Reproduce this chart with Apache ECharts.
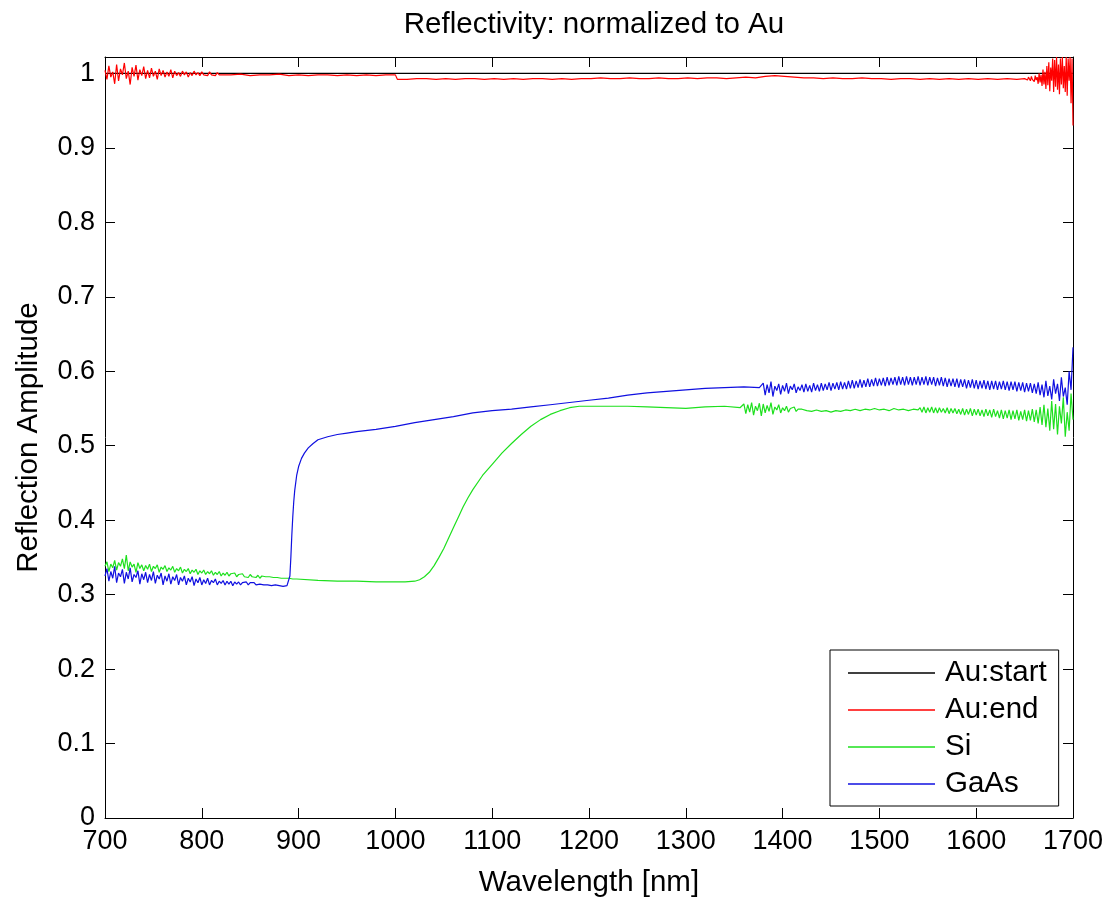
<!DOCTYPE html>
<html>
<head>
<meta charset="utf-8">
<script src="https://cdn.jsdelivr.net/npm/echarts@6/dist/echarts.min.js"></script>
<style>html,body{margin:0;padding:0;background:#fff;}#c{width:1113px;height:900px;}</style>
</head>
<body>
<div id="c"></div>
<script>
// ---------- DATA ----------
const seriesNames = ['Au:start', 'Au:end', 'Si', 'GaAs'];
const xTicks = [700, 800, 900, 1000, 1100, 1200, 1300, 1400, 1500, 1600, 1700];

// Au:start (reference itself, flat at 1)
const auStartWl = [700, 1700];
const auStartVal = [1, 1];

// Au:end segments
const auEndSegA = [1.004,.992,1.010,.995,1.002,.986,1.012,.990,1.006,.998,
  1.014,.993,1.003,.985,1.008,.996,1.011,.991,1.005,.997,
  1.009,.993,1.004,.994,1.007,.996,1.003,.992,1.006,.997,
  1.004,.995,1.002,.996,1.005,.994,1.003,.997,1.001,.996,
  1.003,.998,1.002,.995,1.001,.997,1.003,.998,1.001,.997,
  1.002,.998,1.000,.997,1.002,.998,1.000,.997,1.001,.998,1.000]; // 700..820 step 2
const auEndSegB = [.998,.999,.997,.998,.998,.999,.997,.998,.997,.998,.998,.997,.998,.997,.998,.997,.998,.998]; // 830..1000 step 10
const auEndSegC = [.992,.992,.993,.993,.992,.993,.992,.993,.993,.992,
  .993,.992,.993,.992,.993,.993,.992,.993,.992,.993,
  .993,.994,.993,.993,.994,.993,.993,.994,.993,.993,
  .994,.993,.994,.994,.993,.994,.995,.994,.996,.997,
  .996,.995,.994,.994,.993,.994,.993,.993,.994,.993,
  .993,.992,.993,.993,.992,.993,.992,.993,.992,.993,
  .992,.993,.992,.993,.992]; // 1002..1642 step 10
const auEndSegD = [.993,.992,.994,.991,.995,.993,.990,.996,.992,.994,
  .989,.997,.991,.995,.986,1.000,.988,.998,.983,1.005,
  .985,1.002,.979,1.010,.984,1.015,.976,1.008,.990,1.020,
  .975,1.018,.982,1.022,.978,1.012,.972,1.020,.985,1.022,
  .980,1.010,.975,1.022,.970,1.020,.990,1.022,.960,1.020,.930]; // 1650..1700 step 1

// Si segments
const siSegA = [.338,.344,.331,.341,.336,.346,.333,.343,.338,.348,.335,.353,.332,.344,.337,.341,.330,.343,.335,.340,
  .332,.339,.334,.341,.331,.338,.335,.340,.330,.337,.334,.339,.331,.336,.333,.338,.330,.335,.332,.337,
  .329,.334,.331,.335,.328,.333,.330,.334,.327,.332,.329,.333,.327,.331,.328,.332,.326,.330,.327,.331,
  .325,.329,.326,.330,.325,.328,.326,.329,.324,.327,.325,.328,.324,.326,.323,.327,.324,.325,.323,.326,
  .322,.325,.323,.324,.322,.324,.322,.323,.321,.323,.321,.322,.320,.322,.321,.322,.320,.321,.320,.321]; // 700..898 step 2
const siSmoothWl = [900,920,940,960,980,1000,1010,1020,1025,1030,1035,1040,1045,1050,1055,1060,1065,1070,1075,1080,
  1090,1100,1110,1120,1130,1140,1150,1160,1170,1180,1190,1200,1220,1240,1260,1280,1300,1320,1340,1356];
const siSmoothVal = [.320,.319,.318,.318,.317,.317,.317,.318,.320,.324,.330,.339,.350,.362,.376,.390,.404,.418,.430,.441,
  .460,.475,.490,.503,.515,.526,.535,.542,.547,.551,.553,.553,.553,.553,.552,.551,.550,.552,.553,.551];
const siSegC = [.550,.556,.543,.555,.545,.558,.541,.553,.547,.557,.540,.556,.544,.554,.546,.558,
  .542,.552,.548,.555,.544,.551,.547,.553,.545,.550,.548,.552,.546,.549,.547,.549]; // 1358..1420 step 2
const siSegD = [.547,.546,.548,.546,.547,.545,.547,.546,.548,.547,.549,.547,.549,.548,.550,.548,.549,.547,.550,.548,.549,.547,.549,.548]; // 1425..1540 step 5
const siSegE = [.551,.545,.552,.544,.551,.545,.552,.544,.551,.544,.551,.545,.550,.544,.551,.543,.550,.544,.550,.543,
  .549,.542,.550,.541,.549,.542,.550,.540,.549,.541,.549,.540,.548,.539,.549,.540,.548,.538,.549,.539,
  .547,.537,.548,.536,.547,.537,.548,.535,.547,.536,.548,.534,.546,.535,.548,.533,.547,.534,.549,.532,
  .548,.530,.552,.528,.555,.525,.550,.520,.560,.522,.556,.515,.553,.530,.565,.512,.545,.520,.570,.535]; // 1542..1700 step 2

// GaAs segments
const gaasSegA = [.325,.335,.318,.331,.322,.338,.316,.329,.324,.334,.315,.330,.321,.336,.317,.327,.323,.332,.314,.328,
  .320,.330,.316,.327,.319,.331,.315,.326,.321,.329,.313,.325,.318,.328,.314,.324,.319,.327,.313,.323,
  .318,.325,.313,.322,.317,.324,.312,.321,.316,.323,.313,.320,.315,.322,.313,.319,.316,.321,.313,.318,
  .315,.319,.313,.318,.314,.318,.312,.317,.314,.317,.313,.316,.314,.317,.313,.316,.314,.316,.313,.315,
  .314,.316,.313,.315,.313,.314,.312,.314,.313,.313,.312,.312,.311,.311,.312]; // 700..888 step 2
const gaasSmoothWl = [890,891,892,893,894,895,896,898,900,903,906,910,915,920,930,940,950,960,980,1000,
  1020,1040,1060,1080,1100,1120,1140,1160,1180,1200,1220,1240,1260,1280,1300,1320,1340,1360,1376];
const gaasSmoothVal = [.312,.325,.350,.380,.405,.425,.440,.460,.472,.483,.490,.497,.503,.508,.512,.515,.517,.519,.522,.526,
  .531,.535,.539,.544,.547,.549,.552,.555,.558,.561,.564,.568,.571,.573,.575,.577,.578,.579,.578];
const gaasSegC = [.577,.584,.568,.582,.571,.586,.566,.580,.574,.583,.569,.581,.573,.584,.570,.580,.575,.583,.571,.579,
  .574,.582,.572,.583,.573,.581,.572,.584,.574,.582,.573,.584,.574,.583,.575,.585,.574,.584,.576,.585,
  .575,.586,.576,.585,.576,.587,.577,.588,.577,.587,.578,.589,.578,.588,.579,.590,.579,.589,.580,.591,
  .580,.590,.581,.591,.580,.592,.581,.591,.582,.592,.581,.593,.582,.592,.581,.593,.582,.592,.581,.592,
  .582,.593,.581,.592,.582,.593,.581,.592,.582,.592,.580,.591,.581,.592,.580,.591,.579,.590,.580,.590,
  .579,.590,.578,.589,.579,.589,.577,.588,.578,.589,.577,.588,.576,.587,.577,.588,.576,.587,.575,.587,
  .576,.587,.575,.586,.576,.587,.575,.586,.574,.586,.575,.586,.573,.585,.574,.585,.572,.584,.573,.584,
  .571,.583,.570,.585,.568,.582,.565,.587,.567,.580,.562,.589,.570,.583,.560,.592,.566,.578,.555,.600,
  .575,.632]; // 1378..1700 step 2

// ---------- build pairs ----------
function grid(start, step, n) { const a = []; for (let i = 0; i < n; i++) a.push(+(start + i * step).toFixed(3)); return a; }
function zip(wl, val) { return wl.map((w, i) => [w, val[i]]); }

const auEndWl = [].concat(grid(700, 2, auEndSegA.length), grid(830, 10, auEndSegB.length), grid(1002, 10, auEndSegC.length), grid(1650, 1, auEndSegD.length));
const auEndVal = [].concat(auEndSegA, auEndSegB, auEndSegC, auEndSegD);
const siWl = [].concat(grid(700, 2, siSegA.length), siSmoothWl, grid(1358, 2, siSegC.length), grid(1425, 5, siSegD.length), grid(1542, 2, siSegE.length));
const siVal = [].concat(siSegA, siSmoothVal, siSegC, siSegD, siSegE);
const gaasWl = [].concat(grid(700, 2, gaasSegA.length), gaasSmoothWl, grid(1378, 2, gaasSegC.length));
const gaasVal = [].concat(gaasSegA, gaasSmoothVal, gaasSegC);

const FONT = '"Liberation Sans", Arial, sans-serif';
const chart = echarts.init(document.getElementById('c'), null, { renderer: 'canvas' });

const baseAxisLine = { show: true, onZero: false, lineStyle: { color: '#000', width: 1 } };
const baseTick = { show: true, inside: true, length: 10, lineStyle: { color: '#000', width: 1 } };
function yFmt(v) { return Math.abs(v * 10 - Math.round(v * 10)) < 1e-6 ? String(+v.toFixed(1)) : ''; }
function xFmt(v) { return String(v); }

function lineSeries(name, data, color, z) {
  return { name, type: 'line', data, showSymbol: false, symbol: 'none', sampling: null, clip: true, z,
    lineStyle: { color, width: 1.2 }, itemStyle: { color }, emphasis: { disabled: true } };
}

chart.setOption({
  animation: false,
  backgroundColor: '#fff',
  title: { text: 'Reflectivity: normalized to Au', left: 589, top: 5, textAlign: 'center',
    textStyle: { fontFamily: FONT, fontSize: 29.5, fontWeight: 'normal', color: '#000' } },
  grid: { left: 105, right: 40, top: 57, bottom: 82, containLabel: false, outerBoundsMode: 'none' },
  legend: {
    data: seriesNames, orient: 'vertical', left: 830, top: 650,
    backgroundColor: '#fff', borderColor: '#000', borderWidth: 1,
    icon: 'rect', itemWidth: 87, itemHeight: 1.3, itemGap: 7,
    padding: [8, 12, 7, 18],
    textStyle: { fontFamily: FONT, fontSize: 29.5, lineHeight: 28, color: '#000', padding: [0, 0, 0, 5] }
  },
  xAxis: [
    { type: 'value', min: xTicks[0], max: xTicks[xTicks.length - 1], interval: 100, position: 'bottom',
      name: 'Wavelength [nm]', nameLocation: 'middle', nameGap: 50,
      nameTextStyle: { fontFamily: FONT, fontSize: 29.5, color: '#000' },
      axisLine: baseAxisLine, axisTick: baseTick,
      axisLabel: { fontFamily: FONT, fontSize: 27, color: '#000', margin: 10, formatter: xFmt }, splitLine: { show: false } },
    { type: 'value', min: xTicks[0], max: xTicks[xTicks.length - 1], interval: 100, position: 'top',
      axisLine: baseAxisLine, axisTick: baseTick, axisLabel: { show: false }, splitLine: { show: false } }
  ],
  yAxis: [
    { type: 'value', min: 0, max: 1.022, interval: 0.1, position: 'left',
      name: 'Reflection Amplitude', nameLocation: 'middle', nameGap: 61,
      nameTextStyle: { fontFamily: FONT, fontSize: 29.5, color: '#000' },
      axisLine: baseAxisLine, axisTick: baseTick,
      axisLabel: { fontFamily: FONT, fontSize: 27, color: '#000', margin: 10, formatter: yFmt }, splitLine: { show: false } },
    { type: 'value', min: 0, max: 1.022, interval: 0.1, position: 'right',
      axisLine: baseAxisLine, axisTick: baseTick, axisLabel: { show: false }, splitLine: { show: false } }
  ],
  series: [
    lineSeries('Au:start', zip(auStartWl, auStartVal), '#000000', 2),
    lineSeries('Au:end', zip(auEndWl, auEndVal), '#ff0000', 3),
    lineSeries('Si', zip(siWl, siVal), '#1ee01e', 4),
    lineSeries('GaAs', zip(gaasWl, gaasVal), '#1010e0', 5)
  ]
});
</script>
</body>
</html>
